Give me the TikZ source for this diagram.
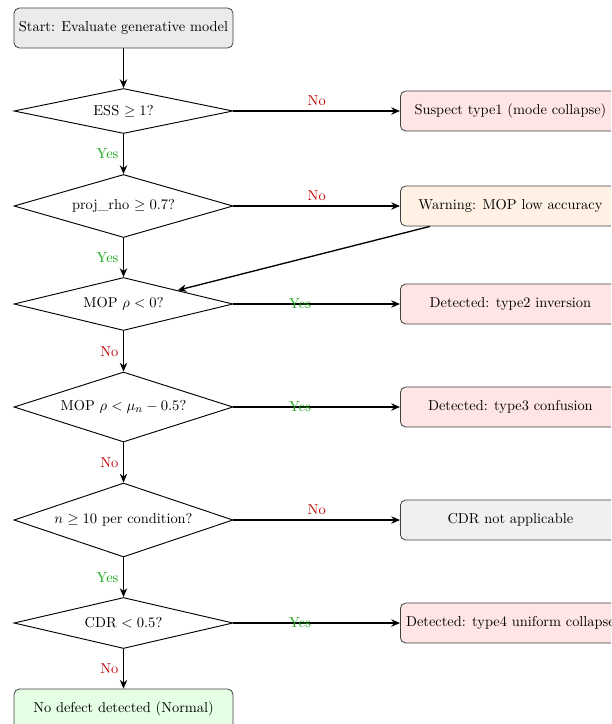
\documentclass[tikz,border=0pt]{standalone}
\usetikzlibrary{shapes.geometric,arrows.meta}
\definecolor{yescol}{RGB}{20,165,20}
\definecolor{nocol}{RGB}{195,0,0}
\begin{document}
\begin{tikzpicture}[x=0.75pt,y=-0.75pt,
  every node/.style={font=\fontsize{10.8pt}{13pt}\selectfont},
  procbox/.style={draw=black!75,line width=0.6pt,rounded corners=4pt,minimum width=164.25pt,minimum height=30pt,inner sep=3pt},
  outbox/.style={procbox,anchor=west,minimum width=165pt},
  decide/.style={draw,line width=0.7pt,diamond,aspect=4,inner sep=1pt,minimum width=164.25pt},
  conn/.style={line width=1pt,-{Stealth[length=6.5pt,width=5.5pt,inset=2pt]}},
  nolab/.style={text=nocol},
  yeslab/.style={text=yescol}]
\useasboundingbox (0,0) rectangle (611,724);
\clip (0,0) rectangle (611,724);
% left column
\node[procbox,fill=black!8] (start) at (123.5,28) {Start: Evaluate generative model};
\node[decide,minimum height=33.75pt] (ess) at (123.5,111) {ESS $\geq 1$?};
\node[decide,minimum height=47.25pt] (proj) at (123.5,206) {proj\_rho $\geq 0.7$?};
\node[decide,minimum height=39.75pt] (mop) at (123.5,304) {MOP $\rho < 0$?};
\node[decide,minimum height=52.5pt] (mopmu) at (123.5,407) {MOP $\rho < \mu_n - 0.5$?};
\node[decide,minimum height=55.5pt] (ncond) at (123.5,520) {$n \geq 10$ per condition?};
\node[decide,minimum height=38.25pt] (cdr) at (123.5,623) {CDR $< 0.5$?};
\node[procbox,fill=green!10] (normal) at (123.5,709) {No defect detected (Normal)};
% right column
\node[outbox,fill=red!10] (t1) at (400,111) {Suspect type1 (mode collapse)};
\node[outbox,fill=orange!10] (warn) at (400,206) {Warning: MOP low accuracy};
\node[outbox,fill=red!10] (t2) at (400,304) {Detected: type2 inversion};
\node[outbox,fill=red!10] (t3) at (400,407) {Detected: type3 confusion};
\node[outbox,fill=black!6] (na) at (400,520) {CDR not applicable};
\node[outbox,fill=red!10] (t4) at (400,623) {Detected: type4 uniform collapse};
% vertical connectors
\draw[conn] (start) -- (ess);
\draw[conn] (ess) -- node[left,yeslab] {Yes} (proj);
\draw[conn] (proj) -- node[left,yeslab] {Yes} (mop);
\draw[conn] (mop) -- node[left,nolab] {No} (mopmu);
\draw[conn] (mopmu) -- node[left,nolab] {No} (ncond);
\draw[conn] (ncond) -- node[left,yeslab] {Yes} (cdr);
\draw[conn] (cdr) -- node[left,nolab] {No} (normal);
% horizontal connectors
\draw[conn] (ess.east) -- node[above,nolab] {No} (t1.west);
\draw[conn] (proj.east) -- node[above,nolab] {No} (warn.west);
\draw[conn] (mop.east) -- node[pos=0.4,yeslab] {Yes} (t2.west);
\draw[conn] (mopmu.east) -- node[pos=0.4,yeslab] {Yes} (t3.west);
\draw[conn] (ncond.east) -- node[above,nolab] {No} (na.west);
\draw[conn] (cdr.east) -- node[pos=0.4,yeslab] {Yes} (t4.west);
% warning back to MOP
\draw[conn] (warn) -- (mop);
\end{tikzpicture}
\end{document}
